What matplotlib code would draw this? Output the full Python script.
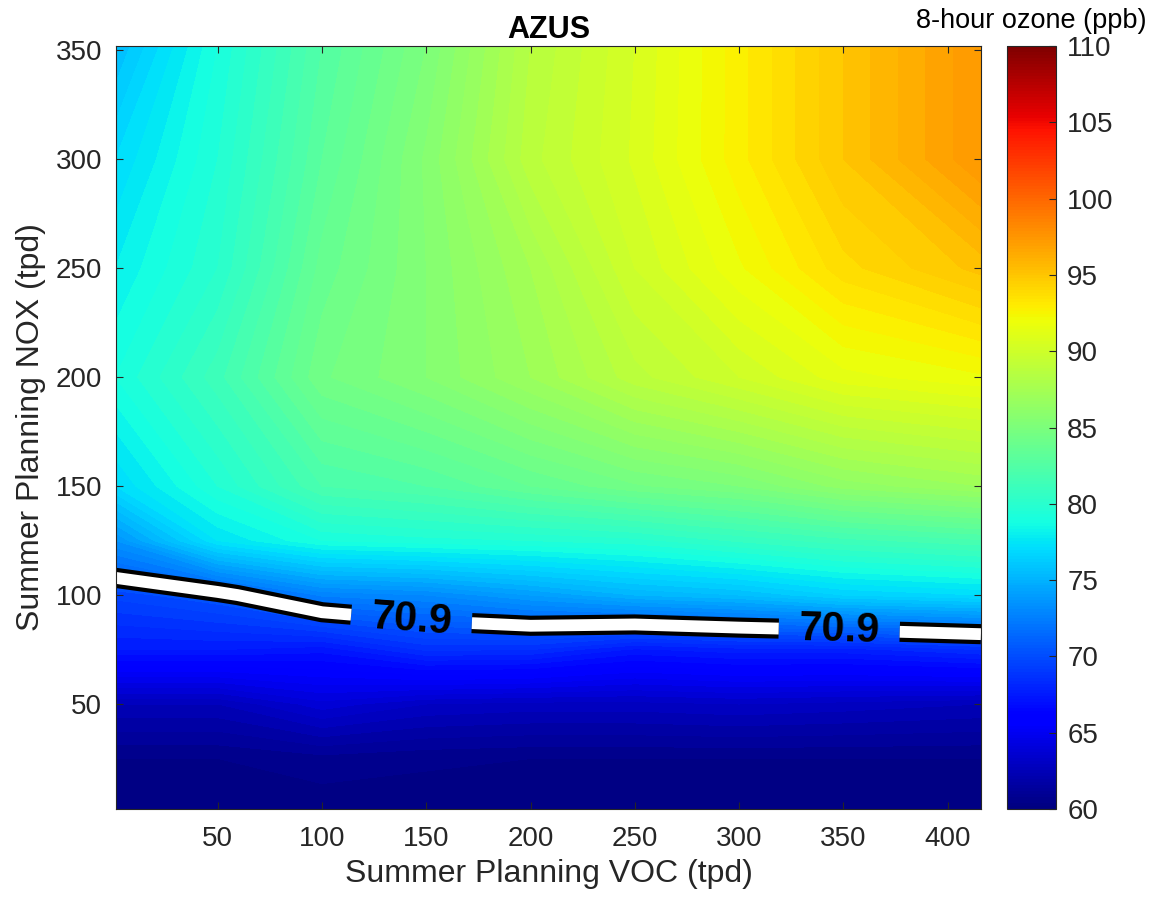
import numpy as np
import matplotlib
matplotlib.use("Agg")
import matplotlib.pyplot as plt
import matplotlib.patheffects as pe
from matplotlib.colors import Normalize
from matplotlib.cm import ScalarMappable

plt.rcParams['font.family'] = ['Liberation Sans', 'DejaVu Sans']

# Grid
voc = [1, 50, 100, 150, 200, 250, 300, 350, 416]
nox = [2, 25, 50, 75, 100, 125, 150, 200, 250, 300, 352]

# ozone (ppb), one row per nox value, columns follow voc
ozone = [
    [60.2, 60.2, 60.2, 60.2, 60.2, 60.2, 60.2, 60.2, 60.2],
    [60.5, 60.5, 60.8, 60.6, 60.5, 60.5, 60.5, 60.5, 60.5],
    [62.5, 62.5, 63.8, 63.0, 62.8, 62.8, 63.0, 62.8, 62.5],
    [67.5, 67.5, 67.2, 68.6, 68.5, 67.4, 67.8, 67.8, 68.5],
    [69.7, 70.5, 72.6, 73.0, 74.0, 75.0, 75.5, 76.5, 77.0],
    [73.5, 77.5, 79.0, 79.3, 79.5, 79.8, 80.6, 81.3, 81.9],
    [77.0, 79.5, 82.0, 82.5, 83.5, 84.4, 85.0, 86.2, 87.0],
    [79.0, 81.3, 84.4, 85.5, 87.0, 88.8, 90.0, 91.3, 91.9],
    [78.0, 80.0, 83.7, 85.5, 87.5, 90.0, 91.9, 93.8, 95.2],
    [77.0, 79.5, 83.0, 85.6, 88.8, 90.6, 92.8, 95.0, 97.5],
    [75.5, 79.0, 82.5, 85.0, 88.5, 90.5, 92.8, 95.0, 97.5],
]

standard = 70.9
title = "AZUS"
xticks = [50, 100, 150, 200, 250, 300, 350, 400]
yticks = [50, 100, 150, 200, 250, 300, 350]
cticks = [60, 65, 70, 75, 80, 85, 90, 95, 100, 105, 110]
label_spots = [(143, 90), (348, 83)]

X, Y = np.meshgrid(voc, nox)
Z = np.array(ozone)

fig = plt.figure(figsize=(11.53, 9.07), dpi=100)
ax = fig.add_axes([0.1006, 0.108, 0.7502, 0.8413])
cax = fig.add_axes([0.8734, 0.108, 0.0425, 0.8413])

txt = '#262626'
norm = Normalize(60, 110)
ax.contourf(X, Y, Z, levels=np.arange(60, 110.5, 0.5), cmap='jet', norm=norm)

# the 70.9 line: white core with black edges
cs = ax.contour(X, Y, Z, levels=[standard], colors='white', linewidths=8.5)
cs.set_path_effects([pe.Stroke(linewidth=14.5, foreground='black', capstyle='butt'),
                     pe.Normal()])
with plt.rc_context({'font.weight': 'bold'}):
    lbls = ax.clabel(cs, fmt='%.1f', manual=label_spots, inline=True,
                     inline_spacing=20, fontsize=30, colors='black')
for t in lbls:
    t.set_fontweight('bold')

ax.set_xlim(1.2, 416)
ax.set_ylim(1.8, 352)
ax.set_xticks(xticks)
ax.set_yticks(yticks)
ax.tick_params(direction='in', top=True, right=True, length=5, width=0.8,
               colors=txt, labelsize=20, pad=10)
ax.tick_params(axis='x', pad=12)
for s in ax.spines.values():
    s.set_color(txt)
    s.set_linewidth(0.8)

ax.set_xlabel("Summer Planning VOC (tpd)", fontsize=23, color=txt, labelpad=5)
ax.set_ylabel("Summer Planning NOX (tpd)", fontsize=23, color=txt, labelpad=7)
ax.set_title(title, fontsize=22, fontweight='bold', color='black', pad=6)

sm = ScalarMappable(norm=norm, cmap='jet')
cb = fig.colorbar(sm, cax=cax, ticks=cticks)
cb.outline.set_edgecolor(txt)
cb.outline.set_linewidth(0.8)
cax.tick_params(direction='in', length=5, width=0.8, colors=txt, labelsize=20, pad=8)
fig.text(1031 / 1153, 1 - 28 / 907, "8-hour ozone (ppb)", ha='center', va='baseline',
         fontsize=19.5, color='black')

fig.savefig("out.png", dpi=100)
